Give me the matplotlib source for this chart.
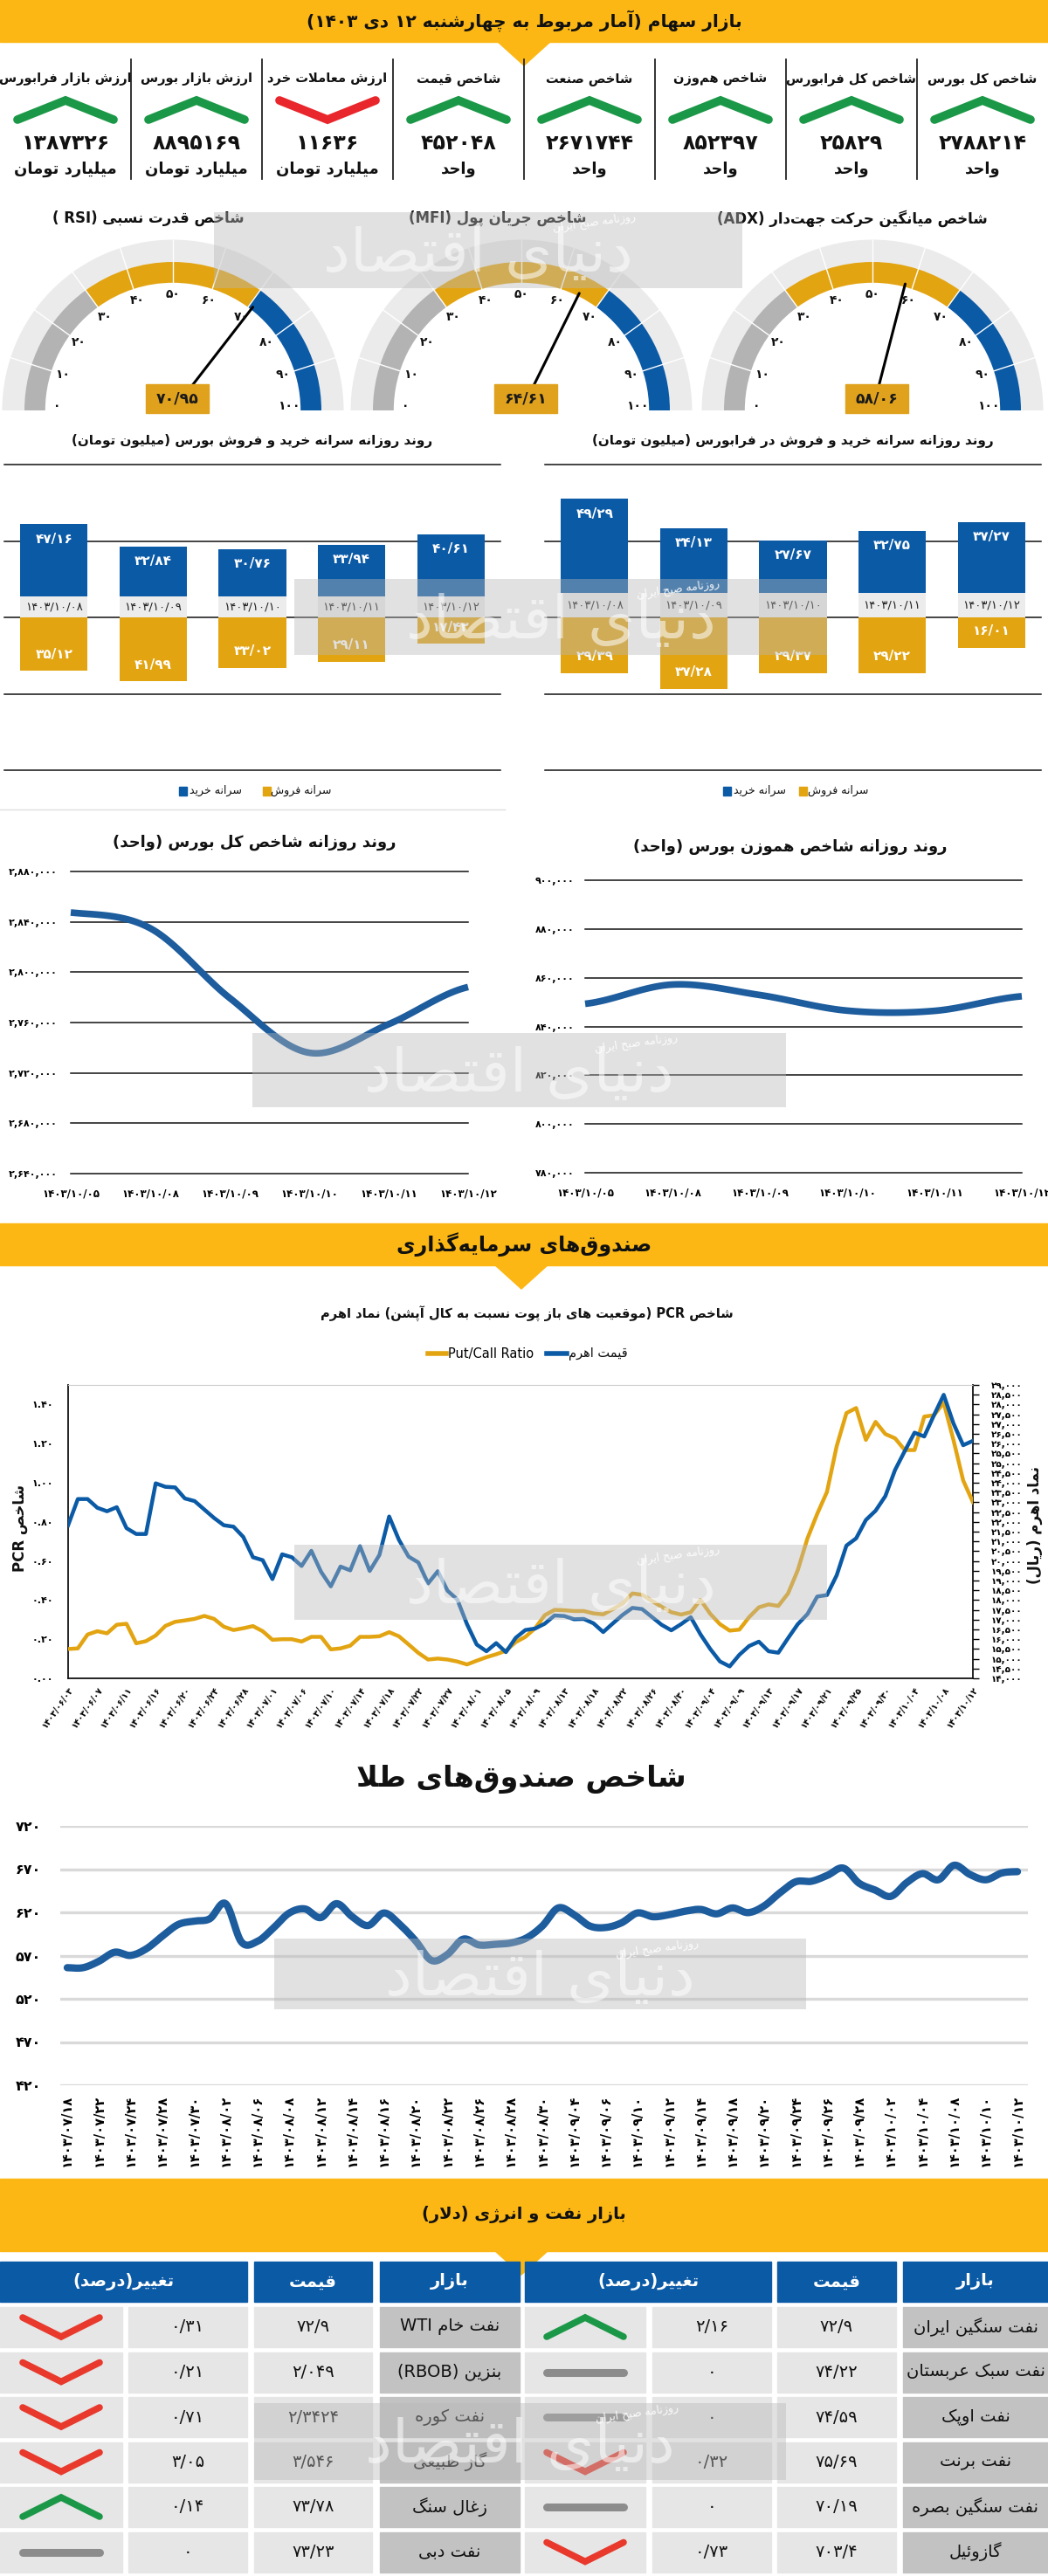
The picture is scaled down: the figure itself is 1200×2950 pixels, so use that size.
import numpy as np
import matplotlib
matplotlib.use('Agg')
import matplotlib.pyplot as plt
from matplotlib.patches import Rectangle, Wedge, Polygon

plt.rcParams['font.family'] = ['DejaVu Sans']

# ---------------------------------------------------------------- data
header_title = "بازار سهام (آمار مربوط به چهارشنبه ۱۲ دی ۱۴۰۳)"
stat_labels = ["شاخص کل بورس", "شاخص کل فرابورس", "شاخص هم‌وزن", "شاخص صنعت",
               "شاخص قیمت", "ارزش معاملات خرد", "ارزش بازار بورس", "ارزش بازار فرابورس"]
stat_values = [2788214, 25829, 852397, 2671744, 452048, 11636, 8895169, 1387326]
stat_units = ["واحد", "واحد", "واحد", "واحد", "واحد",
              "میلیارد تومان", "میلیارد تومان", "میلیارد تومان"]
stat_dirs = [1, 1, 1, 1, 1, -1, 1, 1]

gauge_titles = ["شاخص قدرت نسبی (RSI )", "شاخص جریان پول (MFI)", "شاخص میانگین حرکت جهت‌دار (ADX)"]
gauge_values = [70.95, 64.61, 58.06]
gauge_bands = [(0, 30), (30, 70), (70, 100)]

bar_dates = ["1403/10/08", "1403/10/09", "1403/10/10", "1403/10/11", "1403/10/12"]
bourse_buy = [47.16, 32.84, 30.76, 33.94, 40.61]
bourse_sell = [35.12, 41.99, 33.02, 29.11, 17.42]
farabourse_buy = [49.29, 34.13, 27.67, 32.75, 37.27]
farabourse_sell = [29.39, 37.28, 29.37, 29.22, 16.01]

line_dates = ["1403/10/05", "1403/10/08", "1403/10/09", "1403/10/10", "1403/10/11", "1403/10/12"]
total_index = [2847400, 2834900, 2779500, 2736000, 2758700, 2788214]
equal_index = [849300, 857200, 852900, 846500, 846400, 852397]

pcr_ratio = [0.150, 0.153, 0.224, 0.241, 0.230, 0.274, 0.279, 0.179, 0.190, 0.219,
             0.268, 0.289, 0.296, 0.304, 0.319, 0.304, 0.264, 0.247, 0.256, 0.267,
             0.241, 0.197, 0.200, 0.200, 0.188, 0.212, 0.212, 0.148, 0.153, 0.167,
             0.212, 0.212, 0.215, 0.236, 0.215, 0.173, 0.130, 0.096, 0.101, 0.096,
             0.086, 0.071, 0.090, 0.108, 0.123, 0.141, 0.185, 0.212, 0.256, 0.323,
             0.350, 0.348, 0.344, 0.344, 0.332, 0.327, 0.354, 0.382, 0.434, 0.427,
             0.396, 0.366, 0.338, 0.326, 0.338, 0.401, 0.330, 0.277, 0.244, 0.249,
             0.313, 0.363, 0.378, 0.370, 0.434, 0.553, 0.716, 0.841, 0.953, 1.187,
             1.356, 1.382, 1.219, 1.311, 1.249, 1.227, 1.167, 1.167, 1.338, 1.345,
             1.409, 1.219, 1.012, 0.901]
ahrom_price = [21827, 23166, 23166, 22720, 22541, 22749, 21678, 21380, 21380, 23970,
               23791, 23761, 23196, 23062, 22630, 22199, 21827, 21752, 21232, 20190,
               20041, 19074, 20339, 20190, 19744, 20517, 19446, 18702, 19714, 19520,
               20756, 19491, 20309, 22273, 21083, 20220, 19922, 18851, 19476, 18479,
               18032, 16768, 15726, 15384, 15800, 15339, 16068, 16470, 16544, 16797,
               17214, 17184, 17021, 17036, 16812, 16366, 16812, 17244, 17601, 17541,
               17140, 16738, 16455, 16768, 17125, 16247, 15503, 14863, 14610, 15205,
               15652, 15875, 15384, 15309, 16053, 16768, 17288, 18181, 18256, 19268,
               20785, 21157, 22095, 22571, 23315, 24654, 25621, 26559, 26365, 27452,
               28493, 27035, 25919, 26142]
pcr_dates = ["1403/06/03", "1403/06/07", "1403/06/11", "1403/06/16", "1403/06/20", "1403/06/24",
             "1403/06/28", "1403/07/01", "1403/07/06", "1403/07/10", "1403/07/14", "1403/07/18",
             "1403/07/22", "1403/07/27", "1403/08/01", "1403/08/05", "1403/08/09", "1403/08/13",
             "1403/08/18", "1403/08/22", "1403/08/26", "1403/08/30", "1403/09/04", "1403/09/09",
             "1403/09/13", "1403/09/17", "1403/09/21", "1403/09/25", "1403/09/30", "1403/10/04",
             "1403/10/08", "1403/10/12"]

gold_index = [556.0, 556.0, 563.4, 573.9, 570.2, 577.9, 592.4, 605.9, 609.9, 612.6,
              630.1, 585.7, 586.3, 601.5, 619.0, 624.0, 613.9, 630.1, 614.9, 604.8,
              619.3, 605.9, 587.0, 564.4, 571.2, 589.0, 582.3, 583.0, 584.6, 590.4,
              604.2, 625.1, 617.3, 604.2, 602.5, 607.9, 619.3, 614.9, 617.3, 621.3,
              623.4, 618.3, 625.1, 619.7, 627.4, 642.6, 655.4, 656.0, 662.8, 671.2,
              653.7, 645.9, 638.5, 654.3, 664.8, 657.7, 674.5, 663.8, 657.7, 665.5, 667.1]
gold_dates = ["1403/07/18", "1403/07/22", "1403/07/24", "1403/07/28", "1403/07/30", "1403/08/02",
              "1403/08/06", "1403/08/08", "1403/08/12", "1403/08/14", "1403/08/16", "1403/08/20",
              "1403/08/22", "1403/08/26", "1403/08/28", "1403/08/30", "1403/09/04", "1403/09/06",
              "1403/09/10", "1403/09/12", "1403/09/14", "1403/09/18", "1403/09/20", "1403/09/24",
              "1403/09/26", "1403/09/28", "1403/10/02", "1403/10/04", "1403/10/08", "1403/10/10",
              "1403/10/12"]

oil_right_names = ["نفت سنگین ایران", "نفت سبک عربستان", "نفت اوپک", "نفت برنت",
                   "نفت سنگین بصره", "گازوئیل"]
oil_right_price = [72.9, 74.22, 74.59, 75.69, 70.19, 703.4]
oil_right_change = [2.16, 0, 0, -0.32, 0, -0.73]
oil_left_names = ["نفت خام WTI", "بنزین (RBOB)", "نفت کوره", "گاز طبیعی", "زغال سنگ", "نفت دبی"]
oil_left_price = [72.9, 2.049, 2.3424, 3.546, 73.78, 73.23]
oil_left_change = [-0.31, -0.21, -0.71, -3.05, 0.14, 0]

# ---------------------------------------------------------------- persian text helpers
FORMS = {
    '\u0621': ('\uFE80',), '\u0622': ('\uFE81', '\uFE82'), '\u0623': ('\uFE83', '\uFE84'),
    '\u0624': ('\uFE85', '\uFE86'), '\u0625': ('\uFE87', '\uFE88'),
    '\u0626': ('\uFE89', '\uFE8A', '\uFE8B', '\uFE8C'), '\u0627': ('\uFE8D', '\uFE8E'),
    '\u0628': ('\uFE8F', '\uFE90', '\uFE91', '\uFE92'), '\u0629': ('\uFE93', '\uFE94'),
    '\u062A': ('\uFE95', '\uFE96', '\uFE97', '\uFE98'), '\u062B': ('\uFE99', '\uFE9A', '\uFE9B', '\uFE9C'),
    '\u062C': ('\uFE9D', '\uFE9E', '\uFE9F', '\uFEA0'), '\u062D': ('\uFEA1', '\uFEA2', '\uFEA3', '\uFEA4'),
    '\u062E': ('\uFEA5', '\uFEA6', '\uFEA7', '\uFEA8'), '\u062F': ('\uFEA9', '\uFEAA'),
    '\u0630': ('\uFEAB', '\uFEAC'), '\u0631': ('\uFEAD', '\uFEAE'), '\u0632': ('\uFEAF', '\uFEB0'),
    '\u0633': ('\uFEB1', '\uFEB2', '\uFEB3', '\uFEB4'), '\u0634': ('\uFEB5', '\uFEB6', '\uFEB7', '\uFEB8'),
    '\u0635': ('\uFEB9', '\uFEBA', '\uFEBB', '\uFEBC'), '\u0636': ('\uFEBD', '\uFEBE', '\uFEBF', '\uFEC0'),
    '\u0637': ('\uFEC1', '\uFEC2', '\uFEC3', '\uFEC4'), '\u0638': ('\uFEC5', '\uFEC6', '\uFEC7', '\uFEC8'),
    '\u0639': ('\uFEC9', '\uFECA', '\uFECB', '\uFECC'), '\u063A': ('\uFECD', '\uFECE', '\uFECF', '\uFED0'),
    '\u0641': ('\uFED1', '\uFED2', '\uFED3', '\uFED4'), '\u0642': ('\uFED5', '\uFED6', '\uFED7', '\uFED8'),
    '\u0643': ('\uFED9', '\uFEDA', '\uFEDB', '\uFEDC'), '\u0644': ('\uFEDD', '\uFEDE', '\uFEDF', '\uFEE0'),
    '\u0645': ('\uFEE1', '\uFEE2', '\uFEE3', '\uFEE4'), '\u0646': ('\uFEE5', '\uFEE6', '\uFEE7', '\uFEE8'),
    '\u0647': ('\uFEE9', '\uFEEA', '\uFEEB', '\uFEEC'), '\u0648': ('\uFEED', '\uFEEE'),
    '\u0649': ('\uFEEF', '\uFEF0'), '\u064A': ('\uFEF1', '\uFEF2', '\uFEF3', '\uFEF4'),
    '\u067E': ('\uFB56', '\uFB57', '\uFB58', '\uFB59'), '\u0686': ('\uFB7A', '\uFB7B', '\uFB7C', '\uFB7D'),
    '\u0698': ('\uFB8A', '\uFB8B'), '\u06A9': ('\uFB8E', '\uFB8F', '\uFB90', '\uFB91'),
    '\u06AF': ('\uFB92', '\uFB93', '\uFB94', '\uFB95'), '\u06CC': ('\uFBFC', '\uFBFD', '\uFBFE', '\uFBFF'),
}
LAM_ALEF = {'\u0627': ('\uFEFB', '\uFEFC'), '\u0622': ('\uFEF5', '\uFEF6'),
            '\u0623': ('\uFEF7', '\uFEF8'), '\u0625': ('\uFEF9', '\uFEFA')}
MIRROR = {'(': ')', ')': '(', '[': ']', ']': '['}
PDIG = str.maketrans('0123456789', '۰۱۲۳۴۵۶۷۸۹')


def pdig(s):
    return str(s).translate(PDIG)


def _dual(c):
    return c in FORMS and len(FORMS[c]) == 4


def _joins(c):
    return c in FORMS and len(FORMS[c]) >= 2


def shape(s):
    out, i, n = [], 0, len(s)
    while i < n:
        c = s[i]
        if c not in FORMS:
            out.append(c)
            i += 1
            continue
        prev_j = i > 0 and _dual(s[i - 1])
        if c == '\u0644' and i + 1 < n and s[i + 1] in LAM_ALEF:
            f = LAM_ALEF[s[i + 1]]
            out.append(f[1] if prev_j else f[0])
            i += 2
            continue
        next_j = i + 1 < n and _joins(s[i + 1])
        f = FORMS[c]
        if len(f) == 1:
            out.append(f[0])
        elif len(f) == 2:
            out.append(f[1] if prev_j else f[0])
        else:
            if prev_j and next_j:
                out.append(f[3])
            elif prev_j:
                out.append(f[1])
            elif next_j:
                out.append(f[2])
            else:
                out.append(f[0])
        i += 1
    return ''.join(out).replace('\u200c', '')


def _is_r(c):
    o = ord(c)
    return (0x0600 <= o <= 0x065F) or (0x066A <= o <= 0x06EF) or (0xFB50 <= o <= 0xFDFF) or (0xFE70 <= o <= 0xFEFF)


def _is_l(c):
    o = ord(c)
    return (c.isascii() and c.isalnum()) or (0x06F0 <= o <= 0x06F9) or (0x0660 <= o <= 0x0669)


def fa(s):
    s = pdig(s)
    if not any(_is_r(c) for c in s):
        return s
    t = shape(s)
    d = ['R' if _is_r(c) else 'L' if _is_l(c) else 'N' for c in t]
    for i, v in enumerate(d):
        if v == 'N':
            p = next((d[j] for j in range(i - 1, -1, -1) if d[j] != 'N'), 'R')
            q = next((d[j] for j in range(i + 1, len(d)) if d[j] != 'N'), 'R')
            d[i] = 'L' if (p == 'L' and q == 'L') else 'R'
    runs = []
    for c, v in zip(t, d):
        if runs and runs[-1][0] == v:
            runs[-1][1].append(c)
        else:
            runs.append([v, [c]])
    out = []
    for v, chars in reversed(runs):
        if v == 'R':
            out.append(''.join(MIRROR.get(c, c) for c in reversed(chars)))
        else:
            out.append(''.join(chars))
    return ''.join(out)


def num(v):
    return pdig(('%g' % abs(v)).replace('.', '/'))


def smooth(y, n=24):
    y = np.asarray(y, float)
    p = np.concatenate([[y[0]], y, [y[-1]]])
    xs, ys = [], []
    t = np.linspace(0, 1, n, endpoint=False)
    for i in range(len(y) - 1):
        p0, p1, p2, p3 = p[i], p[i + 1], p[i + 2], p[i + 3]
        ys.append(0.5 * (2 * p1 + (-p0 + p2) * t + (2 * p0 - 5 * p1 + 4 * p2 - p3) * t ** 2
                         + (-p0 + 3 * p1 - 3 * p2 + p3) * t ** 3))
        xs.append(i + t)
    xs.append([len(y) - 1])
    ys.append([y[-1]])
    return np.concatenate(xs), np.concatenate(ys)


# ---------------------------------------------------------------- figure
W, H = 1200, 2950
fig = plt.figure(figsize=(12, 29.5), dpi=100)
fig.patch.set_facecolor('white')

YEL = '#fcb714'
BLUE = '#0b5aa6'
GOLD = '#e3a412'
LBLUE = '#1d5c9d'
GREEN = '#1b9847'
RED = '#e8262b'
GREY = '#8c8c8c'


def add_ax(x0, y0, x1, y1, z=1):
    ax = fig.add_axes([x0 / W, 1 - y1 / H, (x1 - x0) / W, (y1 - y0) / H], zorder=z)
    ax.patch.set_alpha(0)
    return ax


bg = add_ax(0, 0, W, H, z=0)
bg.set_xlim(0, W)
bg.set_ylim(H, 0)
bg.axis('off')


def T(x, y, s, size, weight='bold', color='#111111', ha='center', va='center', rot=0, ax=None, **kw):
    (ax or bg).text(x, y, fa(s), fontsize=size, fontweight=weight, color=color,
                    ha=ha, va=va, rotation=rot, **kw)


def chevron(cx, cy, w, h, d, lw, color=None):
    if d > 0:
        pts = [(cx - w / 2, cy + h / 2), (cx, cy - h / 2), (cx + w / 2, cy + h / 2)]
        c = color or GREEN
    elif d < 0:
        pts = [(cx - w / 2, cy - h / 2), (cx, cy + h / 2), (cx + w / 2, cy - h / 2)]
        c = color or RED
    else:
        pts = [(cx - w / 2, cy), (cx + w / 2, cy)]
        c = GREY
    xs, ys = zip(*pts)
    bg.plot(xs, ys, color=c, lw=lw, solid_capstyle='round', solid_joinstyle='miter', zorder=3)


def banner(y0, y1, title, size, tip):
    bg.add_patch(Rectangle((0, y0), W, y1 - y0, color=YEL, zorder=1))
    bg.add_patch(Polygon([(tip - 31, y1 - 1), (tip + 31, y1 - 1), (tip, y1 + 27)], color=YEL, zorder=1))
    T(600, (y0 + y1) / 2, title, size)


# ---------------------------------------------------------------- top header & stats
banner(0, 48, header_title, 14.5, 600)
for k in range(8):
    cx = W - 75 - 150 * k
    if k > 0:
        bg.plot([W - 150 * k] * 2, [68, 205], color='#222222', lw=1.3)
    T(cx, 91, stat_labels[k], 10.5)
    chevron(cx, 126, 110, 22, stat_dirs[k], 7)
    T(cx, 164, pdig(stat_values[k]), 17)
    T(cx, 194, stat_units[k], 13)

# ---------------------------------------------------------------- gauges
g_cx = [198, 597, 999]
g_title_x = [170, 570, 976]
R = 170.0
for i in range(3):
    cx, cy = g_cx[i], 470
    T(g_title_x[i], 250, gauge_titles[i], 12)
    ax = add_ax(cx - 1.25 * R, cy - 1.25 * R, cx + 1.25 * R, cy + 0.06 * R)
    ax.set_xlim(-1.25, 1.25)
    ax.set_ylim(-0.06, 1.25)
    ax.axis('off')
    ax.add_patch(Wedge((0, 0), 1.15, 0, 180, width=0.16, color='#ebebeb', lw=0))
    for (a, b), c in zip(gauge_bands, ['#b3b3b3', GOLD, BLUE]):
        ax.add_patch(Wedge((0, 0), 1.0, 180 * (1 - b / 100), 180 * (1 - a / 100), width=0.14, color=c, lw=0))
    for v in range(10, 100, 10):
        a = np.pi * (1 - v / 100)
        ax.plot([0.86 * np.cos(a), 1.15 * np.cos(a)], [0.86 * np.sin(a), 1.15 * np.sin(a)], color='white', lw=1)
    for v in range(0, 101, 10):
        a = np.pi * (1 - v / 100)
        r = 0.78
        yy = max(r * np.sin(a), 0.03)
        ax.text(r * np.cos(a), yy, pdig(v), fontsize=10, fontweight='bold', ha='center', va='center', color='#111')
    a = np.pi * (1 - gauge_values[i] / 100)
    ax.plot([0, 0.88 * np.cos(a)], [0, 0.88 * np.sin(a)], color='black', lw=2.2, solid_capstyle='round')
    ax.add_patch(Rectangle((0.03 - 0.21, 0.08 - 0.095), 0.42, 0.19, color='#e0a21d', zorder=5))
    ax.text(0.03, 0.08, pdig(('%.2f' % gauge_values[i]).replace('.', '/')), fontsize=12.5,
            fontweight='bold', ha='center', va='center', zorder=6, color='#1a1a1a')


# ---------------------------------------------------------------- bar charts
def bar_chart(x0, x1, title, tx, buy, sell, lim, step, band):
    T(tx, 505, title, 11)
    ax = add_ax(x0, 532, x1, 882)
    ax.set_xlim(-0.5, len(buy) - 0.5)
    ax.set_ylim(-lim, lim)
    ax.axis('off')
    for g in np.arange(-lim, lim + 1, step):
        ax.axhline(g, color='#111111', lw=1.1, zorder=0, clip_on=False)
    x = np.arange(len(buy))
    ax.bar(x, buy, bottom=band, width=0.68, color=BLUE, zorder=2)
    ax.bar(x, [-s for s in sell], width=0.68, color=GOLD, zorder=2)
    ax.bar(x, [band] * len(x), width=0.68, color='#ececec', zorder=2)
    for i in x:
        ax.annotate(pdig(('%.2f' % buy[i]).replace('.', '/')), (i, band + buy[i]), xytext=(0, -12),
                    textcoords='offset points', ha='center', va='center', color='white',
                    fontsize=11, fontweight='bold', zorder=3)
        ax.annotate(pdig(('%.2f' % sell[i]).replace('.', '/')), (i, -sell[i]), xytext=(0, 14),
                    textcoords='offset points', ha='center', va='center', color='white',
                    fontsize=11, fontweight='bold', zorder=3)
        ax.text(i, band / 2, pdig(bar_dates[i]), ha='center', va='center', fontsize=9.5,
                color='#222222', zorder=3)


bar_chart(5, 573, "روند روزانه سرانه خرید و فروش بورس (میلیون تومان)", 289,
          bourse_buy, bourse_sell, 100, 50, 13.7)
bar_chart(624, 1192, "روند روزانه سرانه خرید و فروش در فرابورس (میلیون تومان)", 908,
          farabourse_buy, farabourse_sell, 80, 40, 12.7)

for lx, (sb, tb, sg, tg) in [(0, (205, 247, 301, 345)), (620, (828, 870, 915, 960))]:
    bg.add_patch(Rectangle((sb, 901), 9, 10, color=BLUE))
    T(tb, 905, "سرانه خرید", 9, weight='normal')
    bg.add_patch(Rectangle((sg, 901), 9, 10, color=GOLD))
    T(tg, 905, "سرانه فروش", 9, weight='normal')
bg.plot([0, 578], [927, 927], color='#e0e0e0', lw=1)


# ---------------------------------------------------------------- line charts
def line_chart(x0, y0, x1, y1, title, tx, ty, vals, lo, hi, step, pad):
    T(tx, ty, title, 13)
    ax = add_ax(x0, y0, x1, y1)
    ax.set_xlim(0, len(vals) - 1)
    ax.set_ylim(lo, hi)
    for s in ax.spines.values():
        s.set_visible(False)
    ticks = np.arange(lo, hi + 1, step)
    ax.set_yticks(ticks, [pdig('{:,}'.format(int(t))) for t in ticks], fontsize=8, fontweight='bold')
    ax.set_xticks(range(len(vals)), [pdig(d) for d in line_dates], fontsize=8.5, fontweight='bold')
    ax.tick_params(length=0, axis='y', pad=pad)
    ax.tick_params(length=0, axis='x', pad=12)
    for t in ticks:
        ax.axhline(t, color='#111111', lw=1.1, zorder=0, clip_on=False)
    xs, ys = smooth(vals)
    ax.plot(xs, ys, color=LBLUE, lw=5.5, solid_capstyle='butt', clip_on=False)


line_chart(81, 998, 536, 1344, "روند روزانه شاخص کل بورس (واحد)", 291, 965,
           total_index, 2640000, 2880000, 40000, 11)
line_chart(670, 1008, 1170, 1343, "روند روزانه شاخص هموزن بورس (واحد)", 905, 970,
           equal_index, 780000, 900000, 20000, 9)

# ---------------------------------------------------------------- investment funds
banner(1401, 1449, "صندوق‌های سرمایه‌گذاری", 17, 597)
T(603, 1505, "شاخص PCR (موقعیت های باز پوت نسبت به کال آپشن) نماد اهرم", 10.5)
bg.plot([490, 511], [1550, 1550], color=GOLD, lw=4)
bg.text(513, 1550, "Put/Call Ratio", fontsize=10.5, ha='left', va='center')
bg.plot([626, 649], [1550, 1550], color=BLUE, lw=4)
T(651, 1550, "قیمت اهرم", 10.5, weight='normal', ha='left')

ax = add_ax(78, 1586, 1114, 1922)
ax.set_xlim(0, len(pcr_ratio) - 1)
ax.set_ylim(0, 1.5)
ax.spines['top'].set_color('#cccccc')
for s in ['left', 'bottom', 'right']:
    ax.spines[s].set_color('#111111')
    ax.spines[s].set_linewidth(1.3)
lt = np.arange(0, 1.41, 0.2)
ax.set_yticks(lt, [pdig('%.2f' % v) for v in lt], fontsize=8, fontweight='bold')
ax.tick_params(axis='y', length=0, pad=12)
xt = np.arange(0, len(pcr_ratio), 3)
ax.set_xticks(xt, [pdig(d) for d in pcr_dates[:len(xt)]], rotation=55, ha='right',
              rotation_mode='anchor', fontsize=7, fontweight='bold')
ax.tick_params(axis='x', length=0, pad=6)
ax.plot(range(len(pcr_ratio)), pcr_ratio, color=GOLD, lw=3.2, zorder=3)
ax2 = ax.twinx()
ax2.set_ylim(14000, 29000)
for s in ax2.spines.values():
    s.set_visible(False)
rt = np.arange(14000, 29001, 500)
ax2.set_yticks(rt, [pdig('{:,}'.format(int(v))) for v in rt], fontsize=7.5, fontweight='bold')
ax2.tick_params(axis='y', length=5, width=1, pad=10)
ax2.plot(range(len(ahrom_price)), ahrom_price, color=BLUE, lw=3.2, zorder=4)
T(23, 1750, "شاخص PCR", 12, rot=90)
T(1185, 1747, "نماد اهرم (ریال)", 12, rot=90)

# ---------------------------------------------------------------- gold funds
T(597, 2037, "شاخص صندوق‌های طلا", 24)
ax = add_ax(69, 2091, 1177, 2388)
n = len(gold_index)
ax.set_xlim(-0.44, n - 1 + 0.66)
ax.set_ylim(420, 720)
for s in ax.spines.values():
    s.set_visible(False)
gt = np.arange(420, 721, 50)
ax.set_yticks(gt, [pdig(int(v)) for v in gt], fontsize=11.5, fontweight='bold')
ax.tick_params(axis='y', length=0, pad=16)
for t in gt:
    ax.axhline(t, color='#d9d9d9', lw=2.4, zorder=0)
ax.set_xticks(np.arange(0, n, 2), [pdig(d) for d in gold_dates], rotation=90, fontsize=10.5,
              fontweight='bold')
ax.tick_params(axis='x', length=0, pad=8)
xs, ys = smooth(gold_index, 12)
ax.plot(xs, ys, color=LBLUE, lw=6, solid_joinstyle='round', solid_capstyle='round')

# ---------------------------------------------------------------- oil & energy table
banner(2495, 2578, "بازار نفت و انرژی (دلار)", 14, 597)
HDR = [("بازار", 1034, 1200), ("قیمت", 890, 1026), ("تغییر(درصد)", 601, 883),
       ("بازار", 435, 595), ("قیمت", 291, 426), ("تغییر(درصد)", 0, 283)]
for s, a, b in HDR:
    bg.add_patch(Rectangle((a, 2590), b - a, 46, color=BLUE, zorder=2))
    T((a + b) / 2, 2613, s, 14, color='white', zorder=3)


def table_side(names, prices, changes, mk, pr, nm, ic):
    for k in range(len(names)):
        y0 = 2642 + 51.5 * k
        for (a, b), c in zip([mk, pr, nm, ic], ['#c2c2c2', '#e6e6e6', '#e6e6e6', '#e6e6e6']):
            bg.add_patch(Rectangle((a, y0), b - a, 46, color=c, zorder=1))
        yc = y0 + 23
        T((mk[0] + mk[1]) / 2, yc, names[k], 14, weight='normal', zorder=3)
        T((pr[0] + pr[1]) / 2, yc, num(prices[k]), 14, weight='normal', zorder=3)
        T((nm[0] + nm[1]) / 2, yc, num(changes[k]), 14, weight='normal', zorder=3)
        d = np.sign(changes[k])
        chevron((ic[0] + ic[1]) / 2, yc, 88, 22, d, 5.5 if d != 0 else 6.5,
                color=GREEN if d > 0 else ('#e8392c' if d < 0 else None))


table_side(oil_right_names, oil_right_price, oil_right_change, (1034, 1200), (890, 1026), (747, 883), (601, 739))
table_side(oil_left_names, oil_left_price, oil_left_change, (435, 595), (291, 426), (147, 283), (0, 140))

# ---------------------------------------------------------------- watermarks
ov = add_ax(0, 0, W, H, z=30)
ov.set_xlim(0, W)
ov.set_ylim(H, 0)
ov.axis('off')
for x0, y0, x1, y1 in [(245, 243, 850, 330), (337, 663, 947, 750), (289, 1183, 900, 1268),
                       (337, 1769, 947, 1855), (314, 2220, 923, 2301), (291, 2752, 900, 2840)]:
    ov.add_patch(Rectangle((x0, y0), x1 - x0, y1 - y0, color='#b8b8b8', alpha=0.42, lw=0))
    ov.text((x0 + x1) / 2, (y0 + y1) / 2 + 5, fa("دنیای اقتصاد"), fontsize=50, color='white',
            alpha=0.55, ha='center', va='center')
    ov.text(x0 + (x1 - x0) * 0.72, y0 + 12, fa("روزنامه صبح ایران"), fontsize=9, color='white',
            alpha=0.9, ha='center', va='center', rotation=8)

fig.savefig('out.png', dpi=100, facecolor='white')
